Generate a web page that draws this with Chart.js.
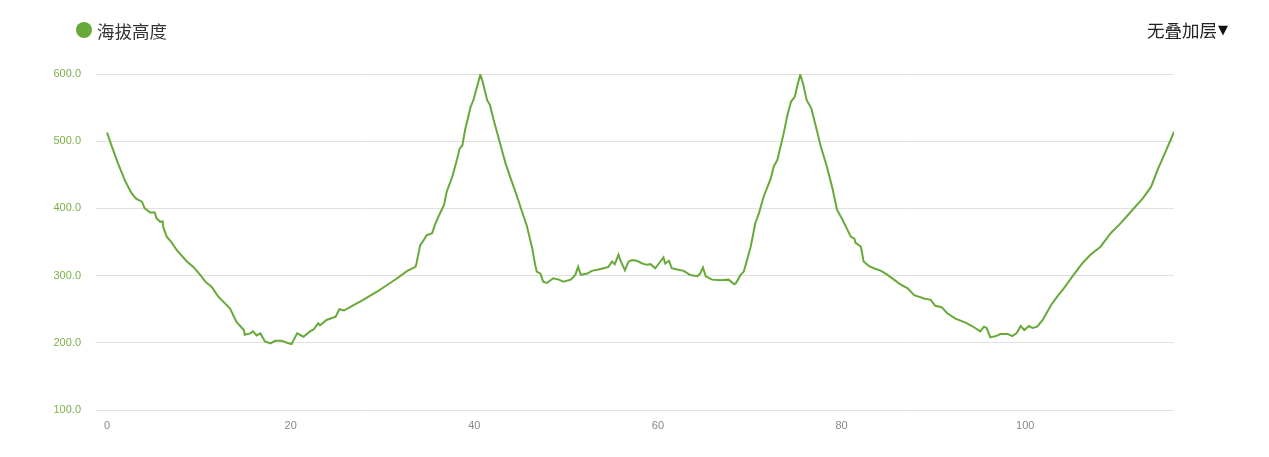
<!DOCTYPE html>
<html>
<head>
<meta charset="utf-8">
<title>海拔高度</title>
<script src="https://cdn.jsdelivr.net/npm/chart.js@4.4.1/dist/chart.umd.min.js"></script>
<style>
  html, body { margin: 0; padding: 0; background: #fff; }
  .wrap { position: relative; width: 1269px; height: 457px; }
  .legend {
    position: absolute; left: 76px; top: 18px;
    font: 17.5px "Noto Sans CJK SC", sans-serif; color: #333;
    display: flex; align-items: center; height: 24px;
  }
  .legend .dot {
    display: inline-block; width: 16px; height: 16px; border-radius: 50%;
    background: #68a939; margin-right: 5px;
  }
  .overlay {
    position: absolute; right: 41px; top: 17px; height: 24px;
    font: 17.5px "Noto Sans CJK SC", sans-serif; color: #222;
    display: flex; align-items: center;
  }
  .overlay .arrow { font: 13px "DejaVu Sans", sans-serif; color: #111; margin-left: 1px; }
</style>
</head>
<body>
<div class="wrap">
  <canvas id="chart"></canvas>
  <div class="legend"><span class="dot"></span><span>海拔高度</span></div>
  <div class="overlay"><span>无叠加层</span><span class="arrow">▼</span></div>
</div>
<script>
const seriesName = '海拔高度';

// distance along the route
const distance = [
  0, 0.5, 1.2, 2.0, 2.7, 3.2, 3.8, 4.1, 4.7, 5.2, 5.4, 5.8, 6.06, 6.13, 6.5, 7.0, 7.6, 8.7, 9.4, 10.1,
  10.7, 11.4, 12.1, 13.4, 14.1, 14.9, 15.0, 15.6, 15.9, 16.3, 16.7, 17.2, 17.8, 18.3, 19.0, 19.6, 20.1, 20.7, 21.4, 22.1,
  22.5, 23.0, 23.2, 23.9, 24.9, 25.3, 25.8, 26.7, 27.9, 29.4, 30.5, 31.6, 32.7, 33.6, 33.7, 34.1, 34.5, 34.8, 35.4, 35.7,
  36.1, 36.7, 37.0, 37.6, 38.1, 38.4, 38.7, 39.0, 39.6, 39.9, 40.5, 40.65, 40.9, 41.4, 41.7, 42.1, 42.6, 43.4, 43.9, 44.6,
  45.2, 45.7, 46.3, 46.6, 46.8, 47.2, 47.5, 47.9, 48.6, 49.2, 49.7, 50.5, 51.0, 51.3, 51.6, 52.3, 52.8, 53.5, 54.1, 54.6,
  55.0, 55.3, 55.7, 55.9, 56.4, 56.8, 57.2, 57.7, 58.3, 58.8, 59.2, 59.7, 60.1, 60.6, 60.8, 61.2, 61.5, 62.1, 62.8, 63.5,
  64.3, 64.6, 64.9, 65.2, 65.9, 66.8, 67.7, 68.3, 68.5, 69.0, 69.35, 69.7, 70.1, 70.6, 71.0, 71.5, 72.3, 72.6, 73.0, 73.7,
  74.1, 74.5, 74.9, 75.2, 75.5, 75.8, 76.2, 76.7, 77.2, 77.7, 78.4, 79.0, 79.5, 80.1, 81.0, 81.4, 81.5, 82.1, 82.4, 83.0,
  83.5, 84.3, 85.0, 85.7, 86.4, 87.2, 87.9, 89.0, 89.7, 90.2, 90.9, 91.5, 92.4, 93.5, 94.2, 95.1, 95.5, 95.8, 96.2, 96.8,
  97.3, 98.1, 98.6, 99.1, 99.5, 99.9, 100.4, 100.8, 101.3, 101.9, 102.8, 103.5, 104.2, 105.1, 106.2, 107.1, 108.2, 109.3, 110.4, 111.5,
  112.8, 113.7, 114.4, 115.2, 115.9, 116.2
];

// elevation at each distance
const elevation = [
  513, 493, 467, 440, 422, 414, 410, 400, 394, 394, 385, 380, 381, 372, 358, 350, 338, 321, 313, 302,
  291, 283, 269, 251, 231, 219, 212, 214, 217, 211, 214, 202, 199, 203, 203, 200, 198, 214, 209, 217,
  220, 229, 226, 234, 239, 250, 248, 255, 264, 276, 286, 296, 307, 313, 318, 345, 353, 360, 363, 375,
  388, 405, 425, 447, 472, 489, 494, 517, 551, 561, 591, 599, 589, 561, 554, 532, 507, 467, 447, 420,
  395, 375, 341, 318, 306, 303, 291, 289, 296, 294, 291, 294, 301, 313, 301, 303, 307, 309, 311, 313,
  321, 317, 331, 323, 308, 321, 323, 322, 318, 316, 317, 311, 318, 327, 318, 322, 311, 309, 307, 301,
  299, 303, 312, 299, 294, 293, 294, 287, 289, 301, 306, 323, 343, 378, 393, 417, 445, 462, 472, 512,
  539, 559, 566, 584, 599, 586, 561, 549, 522, 494, 462, 430, 398, 383, 358, 355, 349, 343, 321, 314,
  311, 307, 301, 294, 287, 281, 271, 266, 264, 255, 253, 244, 236, 230, 225, 217, 224, 222, 208, 210,
  213, 213, 210, 215, 225, 219, 225, 222, 224, 234, 256, 269, 281, 298, 318, 331, 343, 363, 378, 395,
  415, 432, 457, 482, 504, 514
];

const xTicks = [0, 20, 40, 60, 80, 100];
const yTicks = [100, 200, 300, 400, 500, 600];

const points = distance.map((d, i) => ({ x: d, y: elevation[i] }));

const ctx = document.getElementById('chart').getContext('2d');
new Chart(ctx, {
  type: 'line',
  data: {
    datasets: [{
      label: seriesName,
      data: points,
      borderColor: '#68a939',
      backgroundColor: '#68a939',
      borderWidth: 2,
      pointRadius: 0,
      tension: 0,
      fill: false
    }]
  },
  options: {
    responsive: true,
    maintainAspectRatio: false,
    animation: false,
    layout: { padding: { left: 30, right: 95, top: 74, bottom: 17 } },
    plugins: {
      legend: { display: false },
      tooltip: { enabled: false }
    },
    scales: {
      x: {
        type: 'linear',
        min: -1.2,
        max: 116.2,
        afterBuildTicks: (s) => { s.ticks = xTicks.map(v => ({ value: v })); },
        afterFit: (s) => { s.height = 30; },
        grid: { display: false, drawTicks: false },
        border: { display: false },
        ticks: {
          padding: 9,
          color: '#888',
          font: { family: 'Liberation Sans', size: 11 }
        }
      },
      y: {
        min: 100,
        max: 600,
        afterBuildTicks: (s) => { s.ticks = yTicks.map(v => ({ value: v })); },
        afterFit: (s) => { s.width = 66; },
        grid: { color: '#e0e0e0', drawTicks: false },
        border: { display: false },
        ticks: {
          padding: 15,
          color: '#79b04c',
          font: { family: 'Liberation Sans', size: 11 },
          callback: (v) => Number(v).toFixed(1)
        }
      }
    }
  }
});
</script>
</body>
</html>
